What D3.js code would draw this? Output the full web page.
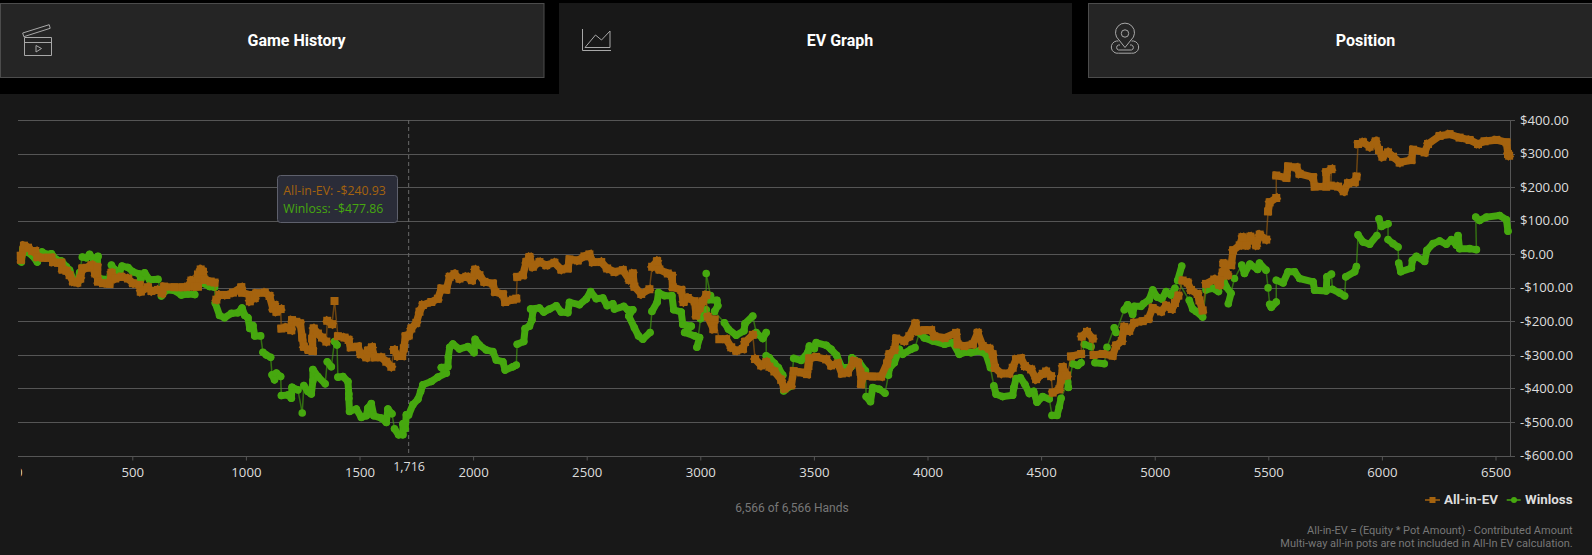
<!DOCTYPE html>
<html><head><meta charset="utf-8">
<script src="https://cdn.jsdelivr.net/npm/d3@7/dist/d3.min.js"></script>
<style>html,body{margin:0;padding:0;background:#181818;overflow:hidden}svg{display:block}</style>
</head><body><svg id="c" width="1592" height="555"></svg>
<script>
const tabLabels=["Game History","EV Graph","Position"];
const xTicks=[0,500,1000,1500,2000,2500,3000,3500,4000,4500,5000,5500,6000,6500];
const yTicks=[400,300,200,100,0,-100,-200,-300,-400,-500,-600];
const totalHands=6566;
const cursorHand=1716, cursorEV=-240.93, cursorWL=-477.86;
const legendNames=["All-in-EV","Winloss"];
const footNotes=["All-in-EV = (Equity * Pot Amount) - Contributed Amount","Multi-way all-in pots are not included in All-In EV calculation."];
const allInEV=[[9,-3],[10,-15],[23,27],[41,21],[59,11],[73,11],[82,-7],[107,-9],[129,-9],[144,-9],[151,-22],[173,-24],[188,-24],[192,-44],[210,-48],[224,-61],[239,-80],[258,-83],[271,-71],[280,-41],[298,-39],[320,-31],[337,-56],[346,-36],[349,-80],[371,-85],[400,-87],[408,-54],[425,-71],[452,-66],[481,-71],[503,-85],[532,-90],[537,-110],[569,-97],[584,-108],[613,-105],[631,-115],[640,-95],[686,-97],[723,-97],[745,-95],[760,-77],[775,-95],[789,-95],[789,-59],[801,-44],[811,-51],[818,-75],[845,-80],[862,-83],[870,-134],[884,-120],[914,-120],[943,-113],[980,-97],[983,-113],[1017,-120],[1017,-139],[1039,-129],[1046,-115],[1083,-113],[1104,-123],[1119,-160],[1126,-150],[1134,-170],[1153,-162],[1156,-220],[1178,-217],[1200,-225],[1203,-195],[1222,-200],[1239,-205],[1248,-247],[1255,-274],[1276,-284],[1295,-287],[1292,-250],[1298,-220],[1317,-235],[1335,-247],[1354,-259],[1358,-197],[1379,-207],[1390,-138],[1405,-243],[1434,-247],[1452,-254],[1461,-276],[1493,-274],[1505,-296],[1530,-306],[1537,-286],[1555,-276],[1566,-306],[1596,-306],[1618,-319],[1640,-334],[1652,-284],[1669,-302],[1688,-302],[1695,-279],[1703,-243],[1716,-241],[1728,-220],[1750,-203],[1764,-170],[1779,-150],[1816,-141],[1845,-131],[1860,-101],[1882,-104],[1897,-66],[1918,-58],[1940,-71],[1970,-66],[1995,-76],[2009,-45],[2028,-61],[2050,-81],[2087,-86],[2097,-111],[2131,-118],[2141,-141],[2175,-134],[2190,-131],[2194,-66],[2219,-61],[2234,-22],[2248,-7],[2263,-36],[2292,-22],[2322,-31],[2358,-24],[2388,-44],[2417,-41],[2424,-14],[2461,-17],[2490,-5],[2512,1],[2527,-22],[2564,-22],[2590,-41],[2622,-51],[2659,-46],[2688,-75],[2703,-56],[2710,-95],[2740,-117],[2776,-103],[2788,-36],[2810,-19],[2820,-44],[2857,-56],[2875,-63],[2879,-97],[2916,-105],[2926,-141],[2945,-129],[2975,-139],[2982,-181],[2997,-159],[3011,-139],[3026,-120],[3033,-185],[3058,-222],[3063,-193],[3084,-252],[3114,-252],[3136,-276],[3158,-286],[3187,-281],[3197,-260],[3231,-239],[3241,-311],[3268,-330],[3290,-320],[3304,-334],[3326,-348],[3356,-373],[3370,-399],[3400,-389],[3411,-347],[3444,-351],[3470,-356],[3476,-332],[3480,-309],[3510,-305],[3554,-312],[3576,-330],[3605,-324],[3623,-354],[3649,-351],[3675,-317],[3693,-322],[3705,-349],[3708,-386],[3719,-361],[3759,-363],[3796,-363],[3822,-324],[3832,-297],[3854,-284],[3862,-250],[3898,-257],[3920,-243],[3947,-205],[3957,-228],[3986,-225],[4016,-225],[4030,-243],[4075,-248],[4126,-233],[4133,-267],[4162,-272],[4199,-267],[4221,-233],[4243,-272],[4272,-280],[4287,-297],[4297,-337],[4324,-354],[4360,-354],[4375,-337],[4390,-312],[4412,-309],[4429,-332],[4456,-342],[4478,-371],[4507,-355],[4522,-348],[4544,-362],[4551,-411],[4580,-401],[4588,-371],[4595,-335],[4614,-360],[4632,-303],[4676,-296],[4679,-244],[4702,-230],[4727,-250],[4731,-299],[4771,-296],[4815,-301],[4830,-271],[4855,-257],[4866,-215],[4888,-227],[4910,-203],[4947,-198],[4972,-191],[4991,-159],[5028,-169],[5050,-152],[5075,-162],[5089,-144],[5104,-122],[5123,-77],[5145,-83],[5160,-105],[5189,-117],[5197,-136],[5211,-166],[5226,-87],[5262,-74],[5285,-90],[5299,-53],[5321,-61],[5303,-26],[5337,-31],[5345,13],[5374,28],[5386,52],[5404,28],[5421,54],[5447,28],[5462,60],[5491,45],[5499,129],[5506,156],[5535,169],[5535,236],[5580,229],[5587,263],[5624,260],[5638,241],[5697,231],[5704,203],[5755,203],[5755,246],[5778,255],[5775,206],[5807,203],[5832,189],[5851,213],[5880,216],[5888,233],[5895,330],[5917,335],[5946,322],[5973,338],[5987,312],[6002,292],[6027,305],[6049,292],[6078,275],[6130,282],[6137,313],[6188,305],[6203,330],[6254,354],[6298,359],[6342,349],[6386,342],[6423,330],[6452,338],[6504,342],[6548,335],[6555,300],[6560,295]];
const winloss=[[12,-22],[19,18],[38,8],[59,-2],[82,-22],[103,8],[122,1],[144,3],[166,-15],[188,-19],[210,-36],[224,-46],[239,-74],[261,-80],[268,-53],[280,-7],[298,-9],[312,1],[331,-15],[349,-5],[345,-22],[337,-51],[356,-71],[378,-74],[408,-31],[422,-44],[444,-51],[455,-34],[481,-38],[503,-51],[532,-58],[537,-74],[554,-54],[576,-75],[613,-73],[628,-123],[650,-105],[686,-107],[716,-120],[745,-117],[775,-119],[789,-71],[813,-61],[811,-85],[840,-95],[862,-97],[865,-144],[884,-181],[906,-188],[936,-175],[965,-173],[983,-159],[995,-181],[1009,-188],[1017,-220],[1031,-211],[1039,-242],[1065,-242],[1075,-291],[1090,-299],[1109,-306],[1115,-358],[1126,-373],[1134,-353],[1153,-363],[1156,-420],[1185,-418],[1200,-428],[1203,-395],[1229,-403],[1248,-472],[1255,-390],[1273,-408],[1288,-415],[1295,-375],[1295,-342],[1317,-363],[1349,-385],[1358,-319],[1376,-334],[1390,-259],[1401,-269],[1405,-365],[1427,-363],[1449,-378],[1453,-415],[1453,-428],[1456,-467],[1486,-460],[1508,-485],[1530,-480],[1537,-457],[1552,-444],[1563,-480],[1596,-487],[1618,-500],[1625,-460],[1643,-474],[1654,-519],[1672,-537],[1691,-537],[1691,-504],[1701,-519],[1706,-477],[1716,-478],[1735,-447],[1757,-431],[1769,-408],[1779,-388],[1816,-378],[1845,-365],[1882,-353],[1860,-336],[1889,-334],[1891,-304],[1897,-276],[1911,-266],[1940,-281],[1977,-274],[2004,-292],[2009,-252],[2028,-269],[2058,-284],[2087,-289],[2102,-314],[2131,-319],[2141,-344],[2175,-334],[2190,-329],[2194,-267],[2223,-259],[2229,-220],[2248,-213],[2259,-195],[2263,-169],[2253,-162],[2292,-159],[2311,-171],[2336,-162],[2366,-152],[2388,-171],[2417,-173],[2424,-142],[2468,-149],[2498,-132],[2517,-110],[2542,-131],[2571,-129],[2590,-152],[2615,-146],[2622,-162],[2663,-154],[2681,-164],[2703,-164],[2685,-183],[2710,-218],[2728,-242],[2747,-252],[2779,-232],[2787,-169],[2810,-142],[2816,-113],[2842,-122],[2875,-122],[2883,-164],[2916,-171],[2923,-208],[2960,-213],[2931,-232],[2975,-242],[2997,-247],[2985,-276],[3001,-191],[3026,-164],[3026,-56],[3045,-122],[3036,-134],[3073,-136],[3077,-152],[3063,-169],[3106,-203],[3124,-222],[3158,-240],[3192,-227],[3197,-205],[3231,-183],[3246,-232],[3275,-250],[3290,-232],[3290,-301],[3304,-307],[3326,-324],[3344,-337],[3363,-359],[3367,-406],[3400,-391],[3411,-309],[3444,-315],[3473,-292],[3480,-272],[3502,-280],[3510,-262],[3554,-270],[3576,-282],[3600,-300],[3622,-335],[3642,-337],[3664,-334],[3667,-307],[3700,-322],[3727,-346],[3730,-423],[3749,-438],[3759,-396],[3788,-401],[3813,-413],[3828,-359],[3832,-339],[3854,-322],[3876,-282],[3891,-297],[3928,-282],[3945,-277],[3964,-233],[3986,-248],[4023,-257],[4075,-267],[4111,-262],[4140,-297],[4170,-290],[4192,-292],[4228,-287],[4258,-297],[4277,-337],[4292,-391],[4302,-416],[4331,-423],[4375,-419],[4380,-396],[4390,-369],[4409,-367],[4429,-387],[4448,-414],[4467,-407],[4482,-440],[4507,-423],[4536,-430],[4548,-479],[4570,-479],[4580,-453],[4588,-428],[4617,-379],[4620,-396],[4639,-325],[4661,-330],[4676,-322],[4690,-267],[4720,-274],[4737,-322],[4778,-325],[4790,-276],[4822,-218],[4830,-232],[4866,-164],[4881,-149],[4903,-178],[4910,-154],[4940,-154],[4951,-146],[4976,-134],[4991,-105],[5010,-126],[5031,-132],[5050,-110],[5072,-120],[5089,-100],[5119,-34],[5101,-77],[5152,-136],[5167,-162],[5182,-169],[5211,-186],[5226,-105],[5255,-100],[5281,-110],[5299,-66],[5314,-95],[5336,-115],[5324,-146],[5351,-71],[5383,-31],[5395,-56],[5419,-28],[5453,-44],[5461,-25],[5490,-46],[5499,-99],[5506,-148],[5513,-157],[5535,-141],[5535,-76],[5565,-84],[5587,-51],[5616,-51],[5638,-71],[5697,-81],[5704,-106],[5755,-108],[5758,-66],[5778,-58],[5782,-103],[5814,-114],[5836,-123],[5841,-66],[5880,-51],[5888,-35],[5895,59],[5917,38],[5946,31],[5978,57],[5987,107],[5998,84],[6027,92],[6027,45],[6049,33],[6071,23],[6074,-25],[6083,-51],[6130,-40],[6134,-17],[6152,-5],[6188,-20],[6198,13],[6225,33],[6254,41],[6284,31],[6306,45],[6328,28],[6335,57],[6342,18],[6386,18],[6416,15],[6413,112],[6430,102],[6460,112],[6518,117],[6548,104],[6555,70]];

const EV_COLOR="#a5630e", WL_COLOR="#46a80f";
const locale=d3.formatLocale({decimal:".",thousands:",",grouping:[3],currency:["$",""],minus:"-"});
const money=locale.format("$,.2f"), comma=locale.format(",");
const svg=d3.select("#c");
// header
svg.append("rect").attr("width",1592).attr("height",94).attr("fill","#000");
svg.append("rect").attr("x",559).attr("y",3).attr("width",513).attr("height",91).attr("fill","#181818");
[[0.5,543.5],[1088.5,504]].forEach(([x,w])=>svg.append("rect").attr("x",x).attr("y",3.5).attr("width",w).attr("height",74).attr("fill","#252525").attr("stroke","#4c4c4c"));
[296.5,840,1365.5].forEach((cx,i)=>svg.append("text").attr("x",cx).attr("y",40).attr("dy","0.36em").attr("text-anchor","middle").attr("font-family","Roboto").attr("font-weight",700).attr("font-size",16).attr("fill","#fff").text(tabLabels[i]));
const ic=svg.append("g").attr("fill","none").attr("stroke","#a8a8a8").attr("stroke-width",1);
ic.append("path").attr("d","M24.5 37.5H51.5V55.5H24.5ZM24.5 42.5H51.5M22.7 33L49.2 24.7L50.2 28.3L23.8 36.7ZM36 45.5L41.5 48.5L36 52Z");
ic.append("path").attr("d","M582.5 29V50.5H611M585 47.5L595.5 35L601.5 40L610 31V47.5Z");
ic.append("path").attr("d","M1125 47.5L1119 40A9.5 9.5 0 1 1 1131 40ZM1118.5 41H1116.5A6 6 0 0 0 1118.5 53.2H1131.5A6 6 0 0 0 1133.5 41H1131.5M1120 45H1118.5A2.6 2.6 0 0 0 1118.5 50H1131.5A2.6 2.6 0 0 0 1131.5 45H1130");
ic.append("circle").attr("cx",1125).attr("cy",33.5).attr("r",3.7);

const x=d3.scaleLinear().domain([0,totalHands]).range([18.7,1510.5]);
const y=d3.scaleLinear().domain([-600,400]).range([456,120.5]);
// grid
svg.append("g").selectAll("line").data(yTicks).join("line").attr("x1",18).attr("x2",1515).attr("y1",d=>Math.floor(y(d))+.5).attr("y2",d=>Math.floor(y(d))+.5).attr("stroke","#555");
// axes
const ya=svg.append("g").attr("transform","translate(1510.5,-0.5)").call(d3.axisRight(y).tickValues(yTicks).tickFormat(money).tickSize(0).tickPadding(9.5));
const xa=svg.append("g").attr("transform","translate(0,456.5)").call(d3.axisBottom(x).tickValues(xTicks).tickFormat(d3.format("d")).tickSize(4).tickPadding(7));
[ya,xa].forEach(a=>{a.selectAll("path,line").attr("stroke","#555");a.selectAll("text").attr("fill","#ddd").attr("font-family","'Open Sans'").attr("font-size",13.2);});
xa.select("path").attr("d","M18,0H1510.5");
ya.select("path").attr("d","M0,121V457");
// the first tick label is cut by the plot edge, as in the reference
svg.append("clipPath").attr("id","zc").append("rect").attr("x",20.9).attr("y",0).attr("width",30).attr("height",40);
const zeroTick=xa.selectAll(".tick").filter(d=>d===0);
zeroTick.select("line").remove();
zeroTick.attr("transform",null).select("text").attr("x",x(0)).attr("clip-path","url(#zc)");
// crosshair
svg.append("line").attr("x1",x(cursorHand)+.1).attr("x2",x(cursorHand)+.1).attr("y1",120).attr("y2",453).attr("stroke","#6a6a6a").attr("stroke-dasharray","4 3");
// series: hands packed closer than a marker merge into a thick band; big jumps remain thin lines
const line=d3.line().x(d=>x(d[0])).y(d=>y(d[1]));
const gapPx=([a,b])=>Math.hypot(x(b[0])-x(a[0]),y(b[1])-y(a[1]));
function drawSeries(data,c,cap,w){
 const segs=d3.pairs(data);
 const g=svg.append("g").attr("fill","none").attr("stroke",c);
 g.selectAll("path").data(segs).join("path").attr("d",s=>line(s))
  .attr("stroke-width",s=>gapPx(s)<15?w:1.5)
  .attr("stroke-opacity",s=>gapPx(s)<15?1:.6)
  .attr("stroke-linecap",s=>gapPx(s)<15?cap:"butt");
}
drawSeries(winloss,WL_COLOR,"round",7);
svg.append("g").selectAll("circle").data(winloss).join("circle").attr("cx",d=>x(d[0])).attr("cy",d=>y(d[1])).attr("r",3.8).attr("fill",WL_COLOR);
drawSeries(allInEV,EV_COLOR,"square",7.4);
svg.append("g").selectAll("rect").data(allInEV).join("rect").attr("x",d=>x(d[0])-4).attr("y",d=>y(d[1])-4).attr("width",8).attr("height",8).attr("fill",EV_COLOR);
// cursor label and tooltip
svg.append("text").attr("x",x(cursorHand)+.5).attr("y",466).attr("dy","0.36em").attr("text-anchor","middle").attr("font-family","'Open Sans'").attr("font-size",12.5).attr("fill","#ddd").text(comma(cursorHand));
svg.append("rect").attr("x",277.5).attr("y",175.5).attr("width",120).attr("height",47).attr("rx",3).attr("fill","#2a2c38").attr("stroke","#5e606c");
[[`${legendNames[0]}: ${money(cursorEV)}`,EV_COLOR,190.5],[`${legendNames[1]}: ${money(cursorWL)}`,WL_COLOR,208.5]].forEach(([t,c,yy])=>svg.append("text").attr("x",283.3).attr("y",yy).attr("dy","0.36em").attr("font-family","'Open Sans'").attr("font-size",12.3).attr("fill",c).text(t));
// legend
[[1425,1440,1432.5,EV_COLOR,1444,0],[1506.7,1520.7,1514,WL_COLOR,1525,1]].forEach(([a,b,m,c,tx,i])=>{
 svg.append("line").attr("x1",a).attr("x2",b).attr("y1",500).attr("y2",500).attr("stroke",c).attr("stroke-width",2).attr("stroke-opacity",.75);
 if(i===0)svg.append("rect").attr("x",m-3).attr("y",497).attr("width",6).attr("height",6).attr("fill",c);
 else svg.append("circle").attr("cx",m).attr("cy",500).attr("r",3).attr("fill",c);
 svg.append("text").attr("x",tx).attr("y",499.5).attr("dy","0.36em").attr("font-family","Roboto").attr("font-weight",700).attr("font-size",13.4).attr("fill","#ddd").text(legendNames[i]);
});
svg.append("text").attr("x",792).attr("y",507.5).attr("dy","0.36em").attr("text-anchor","middle").attr("font-family","Roboto").attr("font-size",12).attr("fill","#777").text(`${comma(totalHands)} of ${comma(totalHands)} Hands`);
footNotes.forEach((t,i)=>svg.append("text").attr("x",1572.7).attr("y",530+i*13).attr("dy","0.36em").attr("text-anchor","end").attr("font-family","Roboto").attr("font-size",11).attr("fill","#777").text(t));
</script></body></html>
